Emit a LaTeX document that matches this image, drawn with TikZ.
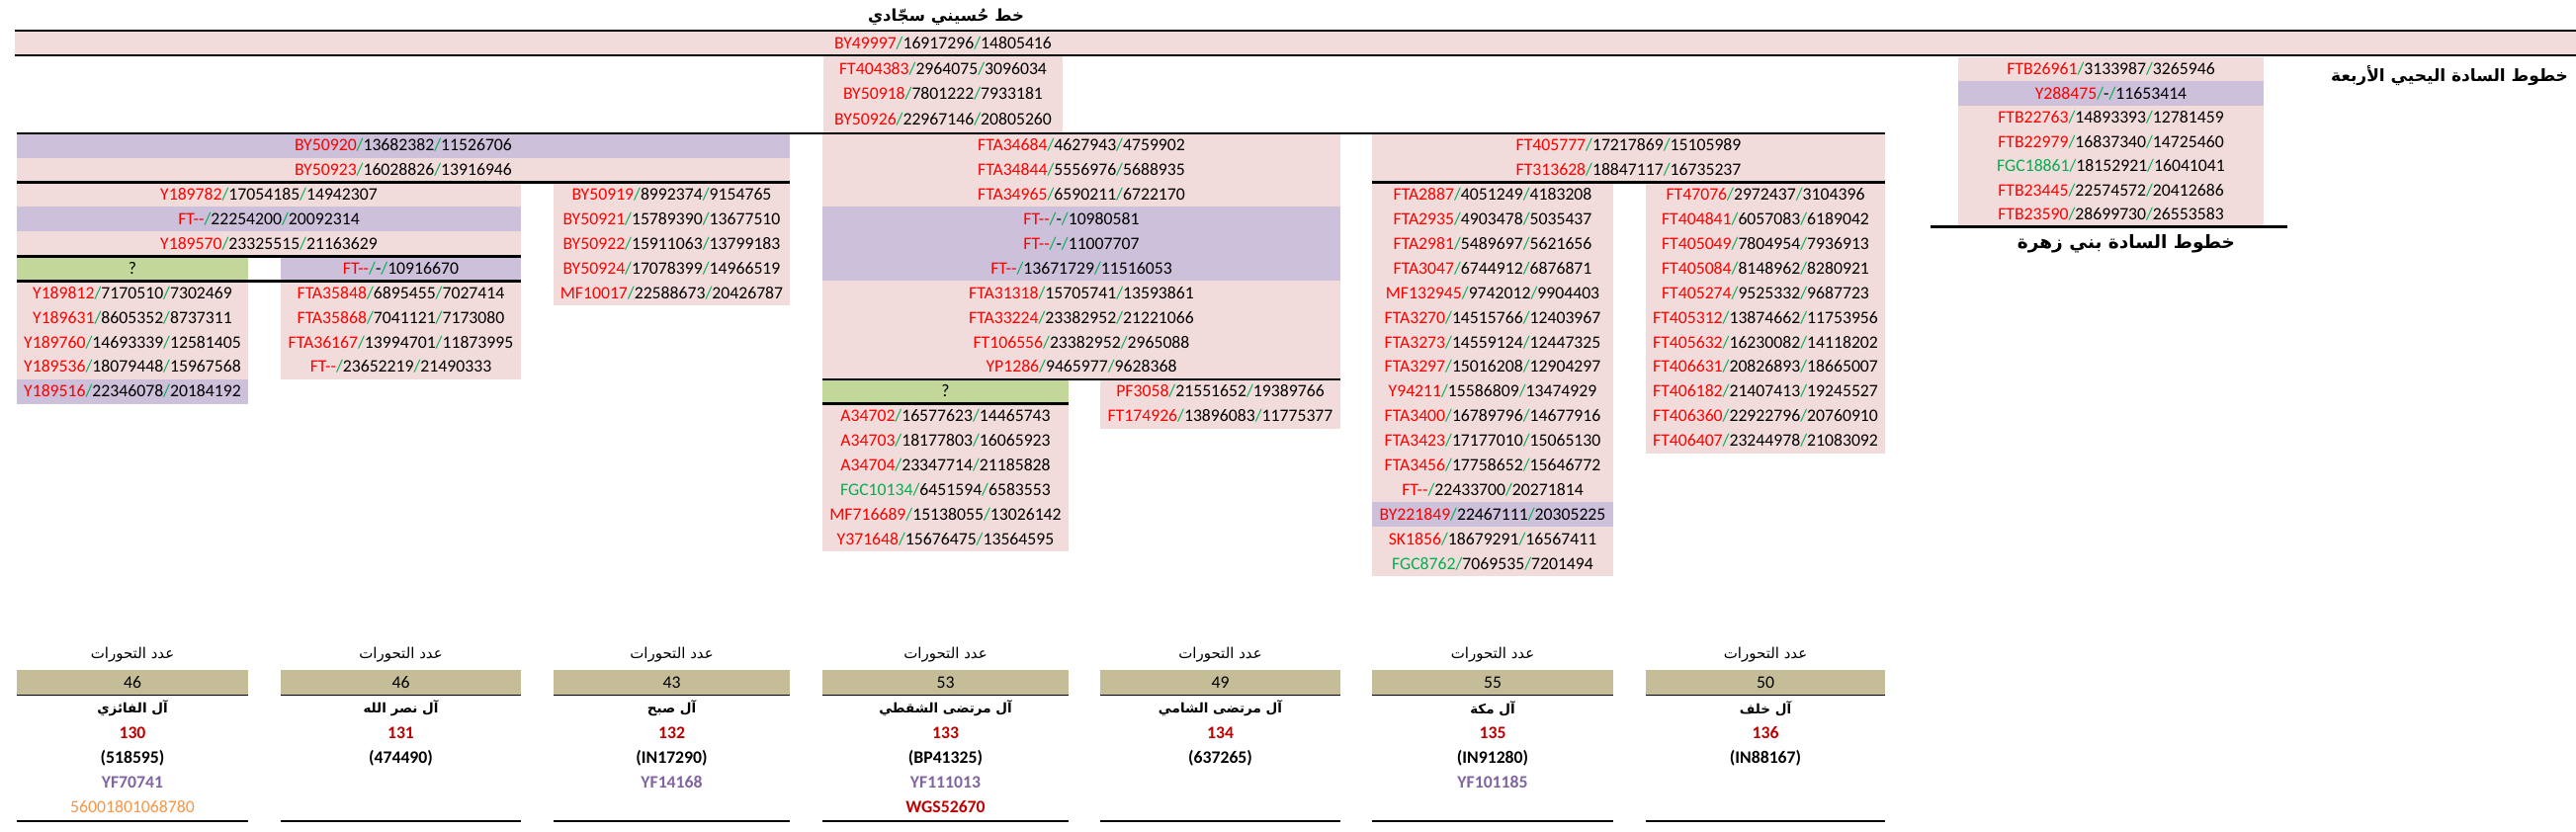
\documentclass[tikz,border=0pt]{standalone}
\usepackage{fontspec}
\setmainfont{Carlito}
\newfontfamily\arabicfont[Script=Arabic]{DejaVu Sans}
\TeXXeTstate=1
\definecolor{pinkc}{HTML}{F2DCDB}
\definecolor{purc}{HTML}{CCC0DA}
\definecolor{grc}{HTML}{C4D79B}
\definecolor{khc}{HTML}{C4BD97}
\definecolor{idred}{HTML}{FF0000}
\definecolor{slg}{HTML}{00B050}
\definecolor{numred}{HTML}{C00000}
\definecolor{yfpur}{HTML}{8064A2}
\definecolor{orng}{HTML}{F79646}
\newcommand\rowfont{\fontsize{17.7}{20}\selectfont}
\newcommand\ry[1]{147.3+24.9*(#1)}
\newcommand\ids[4]{\textcolor{#1}{#2}\textcolor{slg}{/}#3\textcolor{slg}{/}#4}
\tikzset{
  cell/.style={inner sep=0pt, minimum height=25.2pt, text height=11pt, text depth=0pt, font=\rowfont},
  thk/.style={line width=2.6pt},
  thn/.style={line width=1.3pt},
  ttl/.style={inner sep=0pt, font=\arabicfont\bfseries\fontsize{17}{20}\selectfont},
  hdr/.style={inner sep=0pt, font=\arabicfont\fontsize{15}{18}\selectfont},
  fam/.style={inner sep=0pt, font=\arabicfont\bfseries\fontsize{13.5}{16}\selectfont},
  lbl/.style={inner sep=0pt, text height=11pt, text depth=0pt, font=\rowfont},
  blbl/.style={lbl, font=\rowfont\bfseries},
}
\newcommand\botgrp[6]{%
  \node[hdr] (#1h) at (#2,663) {\beginR عدد التحورات\endR};
  \node[cell, fill=khc, minimum width=#3] (#1n) at (#2,690.5) {#4};
  \node[fam] (#1a) at (#2,717) {#5};
  \node[blbl, text=numred] (#1b) at (#2,742) {#6};
}
\begin{document}
\begin{tikzpicture}[x=1pt,y=-1pt]
\useasboundingbox (0,0) rectangle (2606,842);

% top band
\node[ttl, font=\arabicfont\bfseries\fontsize{16.5}{20}\selectfont] (title) at (957,17) {\beginR خط حُسيني سجّادي\endR};
\node[cell, fill=pinkc, minimum width=2591pt, minimum height=24pt] (band) at (1310.5,44) {};
\node[cell] (bandtxt) at (954,44) {\ids{idred}{BY49997}{16917296}{14805416}};
\draw[thk] (15,31) -- (2606,31);
\draw[thk] (15,56) -- (2606,56);

% FT404383 column
\foreach \y/\i/\a/\b [count=\n] in {70/FT404383/2964075/3096034, 95.5/BY50918/7801222/7933181, 121/BY50926/22967146/20805260}
  \node[cell, fill=pinkc, minimum width=242pt, minimum height=26pt] (E\n) at (954,\y) {\ids{idred}{\i}{\a}{\b}};

% FTB column
\foreach \k/\f/\c/\i/\a/\b in {0/pinkc/idred/FTB26961/3133987/3265946, 1/purc/idred/Y288475/-/11653414, 2/pinkc/idred/FTB22763/14893393/12781459, 3/pinkc/idred/FTB22979/16837340/14725460, 4/pinkc/slg/FGC18861/18152921/16041041, 5/pinkc/idred/FTB23445/22574572/20412686, 6/pinkc/idred/FTB23590/28699730/26553583}
  \node[cell, fill=\f, minimum width=309pt, minimum height=24.7pt] (D\k) at (2135.5,{58+24.5*(\k+0.5)}) {\ids{\c}{\i}{\a}{\b}};
\draw[thk] (1953,229.5) -- (2314,229.5);
\node[ttl] (titleR) at (2478,77) {\beginR خطوط السادة اليحيي الأربعة\endR};
\node[ttl, font=\arabicfont\bfseries\fontsize{18.5}{22}\selectfont] (titleZ) at (2151,247) {\beginR خطوط السادة بني زهرة\endR};

% group A
\foreach \k/\f/\i/\a/\b in {0/purc/BY50920/13682382/11526706, 1/pinkc/BY50923/16028826/13916946}
  \node[cell, fill=\f, minimum width=782pt] (A\k) at (408,{\ry{\k}}) {\ids{idred}{\i}{\a}{\b}};
\foreach \k/\f/\i/\a/\b in {2/pinkc/Y189782/17054185/14942307, 3/purc/FT-{}-/22254200/20092314, 4/pinkc/Y189570/23325515/21163629}
  \node[cell, fill=\f, minimum width=510pt] (AL\k) at (272,{\ry{\k}}) {\ids{idred}{\i}{\a}{\b}};
\node[cell, fill=grc, minimum width=234pt] (ALa5) at (134,{\ry{5}}) {?};
\foreach \k/\f/\i/\a/\b in {6/pinkc/Y189812/7170510/7302469, 7/pinkc/Y189631/8605352/8737311, 8/pinkc/Y189760/14693339/12581405, 9/pinkc/Y189536/18079448/15967568, 10/purc/Y189516/22346078/20184192}
  \node[cell, fill=\f, minimum width=234pt] (ALa\k) at (134,{\ry{\k}}) {\ids{idred}{\i}{\a}{\b}};
\foreach \k/\f/\i/\a/\b in {5/purc/FT-{}-/-/10916670, 6/pinkc/FTA35848/6895455/7027414, 7/pinkc/FTA35868/7041121/7173080, 8/pinkc/FTA36167/13994701/11873995, 9/pinkc/FT-{}-/23652219/21490333}
  \node[cell, fill=\f, minimum width=243pt] (ALb\k) at (405.5,{\ry{\k}}) {\ids{idred}{\i}{\a}{\b}};
\foreach \k/\i/\a/\b in {2/BY50919/8992374/9154765, 3/BY50921/15789390/13677510, 4/BY50922/15911063/13799183, 5/BY50924/17078399/14966519, 6/MF10017/22588673/20426787}
  \node[cell, fill=pinkc, minimum width=239pt] (AR\k) at (679.5,{\ry{\k}}) {\ids{idred}{\i}{\a}{\b}};

% group B
\foreach \k/\f/\i/\a/\b in {0/pinkc/FTA34684/4627943/4759902, 1/pinkc/FTA34844/5556976/5688935, 2/pinkc/FTA34965/6590211/6722170, 3/purc/FT-{}-/-/10980581, 4/purc/FT-{}-/-/11007707, 5/purc/FT-{}-/13671729/11516053, 6/pinkc/FTA31318/15705741/13593861, 7/pinkc/FTA33224/23382952/21221066, 8/pinkc/FT106556/23382952/2965088, 9/pinkc/YP1286/9465977/9628368}
  \node[cell, fill=\f, minimum width=524pt] (B\k) at (1094,{\ry{\k}}) {\ids{idred}{\i}{\a}{\b}};
\node[cell, fill=grc, minimum width=249pt] (BL10) at (956.5,{\ry{10}}) {?};
\foreach \k/\c/\i/\a/\b in {11/idred/A34702/16577623/14465743, 12/idred/A34703/18177803/16065923, 13/idred/A34704/23347714/21185828, 14/slg/FGC10134/6451594/6583553, 15/idred/MF716689/15138055/13026142, 16/idred/Y371648/15676475/13564595}
  \node[cell, fill=pinkc, minimum width=249pt] (BL\k) at (956.5,{\ry{\k}}) {\ids{\c}{\i}{\a}{\b}};
\foreach \k/\i/\a/\b in {10/PF3058/21551652/19389766, 11/FT174926/13896083/11775377}
  \node[cell, fill=pinkc, minimum width=243pt] (BR\k) at (1234.5,{\ry{\k}}) {\ids{idred}{\i}{\a}{\b}};

% group C
\foreach \k/\i/\a/\b in {0/FT405777/17217869/15105989, 1/FT313628/18847117/16735237}
  \node[cell, fill=pinkc, minimum width=519pt] (C\k) at (1647.5,{\ry{\k}}) {\ids{idred}{\i}{\a}{\b}};
\foreach \k/\f/\c/\i/\a/\b in {2/pinkc/idred/FTA2887/4051249/4183208, 3/pinkc/idred/FTA2935/4903478/5035437, 4/pinkc/idred/FTA2981/5489697/5621656, 5/pinkc/idred/FTA3047/6744912/6876871, 6/pinkc/idred/MF132945/9742012/9904403, 7/pinkc/idred/FTA3270/14515766/12403967, 8/pinkc/idred/FTA3273/14559124/12447325, 9/pinkc/idred/FTA3297/15016208/12904297, 10/pinkc/idred/Y94211/15586809/13474929, 11/pinkc/idred/FTA3400/16789796/14677916, 12/pinkc/idred/FTA3423/17177010/15065130, 13/pinkc/idred/FTA3456/17758652/15646772, 14/pinkc/idred/FT-{}-/22433700/20271814, 15/purc/idred/BY221849/22467111/20305225, 16/pinkc/idred/SK1856/18679291/16567411, 17/pinkc/slg/FGC8762/7069535/7201494}
  \node[cell, fill=\f, minimum width=244pt] (CL\k) at (1510,{\ry{\k}}) {\ids{\c}{\i}{\a}{\b}};
\foreach \k/\i/\a/\b in {2/FT47076/2972437/3104396, 3/FT404841/6057083/6189042, 4/FT405049/7804954/7936913, 5/FT405084/8148962/8280921, 6/FT405274/9525332/9687723, 7/FT405312/13874662/11753956, 8/FT405632/16230082/14118202, 9/FT406631/20826893/18665007, 10/FT406182/21407413/19245527, 11/FT406360/22922796/20760910, 12/FT406407/23244978/21083092}
  \node[cell, fill=pinkc, minimum width=242pt] (CR\k) at (1786,{\ry{\k}}) {\ids{idred}{\i}{\a}{\b}};

% separator lines
\draw[thk] (17,{\ry{-0.5}}) -- (1907,{\ry{-0.5}});
\draw[thk] (17,{\ry{1.5}}) -- (799,{\ry{1.5}});
\draw[thk] (1388,{\ry{1.5}}) -- (1907,{\ry{1.5}});
\draw[thk] (17,{\ry{4.5}}) -- (527,{\ry{4.5}});
\draw[thk] (17,{\ry{5.5}}) -- (527,{\ry{5.5}});
\draw[thk] (832,{\ry{9.5}}) -- (1356,{\ry{9.5}});
\draw[thk] (832,{\ry{10.5}}) -- (1081,{\ry{10.5}});

% bottom groups
\botgrp{g1}{134}{234pt}{46}{\beginR آل الفائزي\endR}{130}
\botgrp{g2}{405.5}{243pt}{46}{\beginR آل نصر الله\endR}{131}
\botgrp{g3}{679.5}{239pt}{43}{\beginR آل صبح\endR}{132}
\botgrp{g4}{956.5}{249pt}{53}{\beginR آل مرتضى الشقطي\endR}{133}
\botgrp{g5}{1234.5}{243pt}{49}{\beginR آل مرتضى الشامي\endR}{134}
\botgrp{g6}{1510}{244pt}{55}{\beginR آل مكة\endR}{135}
\botgrp{g7}{1786}{242pt}{50}{\beginR آل خلف\endR}{136}
\node[blbl] (g1c) at (134,767) {(518595)};
\node[blbl] (g2c) at (405.5,767) {(474490)};
\node[blbl] (g3c) at (679.5,767) {(IN17290)};
\node[blbl] (g4c) at (956.5,767) {(BP41325)};
\node[blbl] (g5c) at (1234.5,767) {(637265)};
\node[blbl] (g6c) at (1510,767) {(IN91280)};
\node[blbl] (g7c) at (1786,767) {(IN88167)};
\node[blbl, text=yfpur] (g1d) at (134,792) {YF70741};
\node[blbl, text=yfpur] (g3d) at (679.5,792) {YF14168};
\node[blbl, text=yfpur] (g4d) at (956.5,792) {YF111013};
\node[blbl, text=yfpur] (g6d) at (1510,792) {YF101185};
\node[lbl, text=orng] (g1e) at (134,817) {56001801068780};
\node[blbl, text=numred] (g4e) at (956.5,817) {WGS52670};
\foreach \xa/\xb in {17/251, 284/527, 560/799, 832/1081, 1113/1356, 1388/1632, 1665/1907} {
  \draw[thn] (\xa,703.5) -- (\xb,703.5);
  \draw[thn] (\xa,831) -- (\xb,831);
}
\end{tikzpicture}
\end{document}
